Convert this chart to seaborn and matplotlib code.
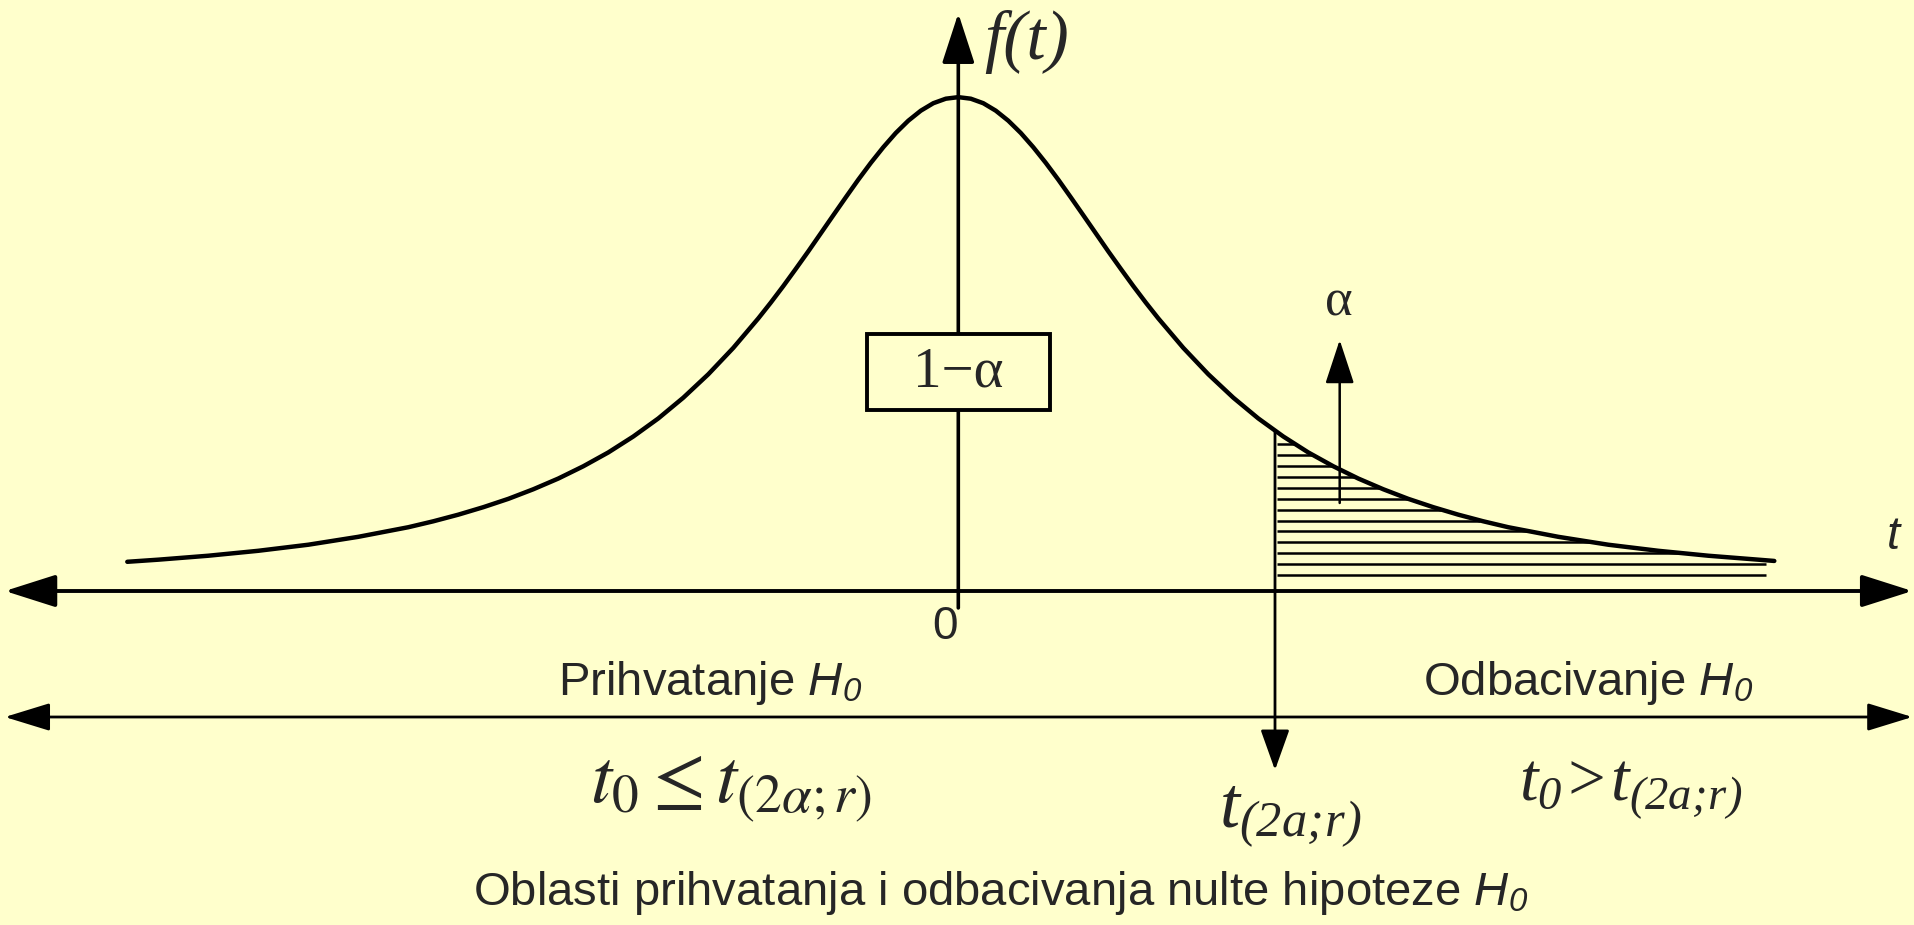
import numpy as np
import pandas as pd
import seaborn as sns
import matplotlib.pyplot as plt
from matplotlib.patches import Rectangle

# Student t density f(t) sampled along the curve
t_values = [-4.155, -4.0, -3.75, -3.5, -3.25, -3.0, -2.75, -2.625, -2.5, -2.375,
            -2.25, -2.125, -2.0, -1.875, -1.75, -1.625, -1.5, -1.375, -1.25,
            -1.125, -1.0, -0.9375, -0.875, -0.8125, -0.75, -0.6875, -0.625,
            -0.5625, -0.5, -0.4375, -0.375, -0.3125, -0.25, -0.1875, -0.125,
            -0.0625, 0.0,
            0.0625, 0.125, 0.1875, 0.25, 0.3125, 0.375, 0.4375, 0.5, 0.5625,
            0.625, 0.6875, 0.75, 0.8125, 0.875, 0.9375, 1.0, 1.125, 1.25,
            1.375, 1.5, 1.625, 1.75, 1.875, 2.0, 2.125, 2.25, 2.375, 2.5,
            2.625, 2.75, 3.0, 3.25, 3.5, 3.75, 4.0, 4.08]
density = [0.0207, 0.0222, 0.0250, 0.0285, 0.0328, 0.0384, 0.0452, 0.0494, 0.0541, 0.0594,
           0.0653, 0.0721, 0.0797, 0.0884, 0.0982, 0.1095, 0.1223, 0.1370, 0.1536,
           0.1723, 0.1932, 0.2044, 0.2161, 0.2283, 0.2407, 0.2535, 0.2663,
           0.2790, 0.2915, 0.3034, 0.3145, 0.3246, 0.3333, 0.3404, 0.3457,
           0.3489, 0.3500,
           0.3489, 0.3457, 0.3404, 0.3333, 0.3246, 0.3145, 0.3034, 0.2915, 0.2790,
           0.2663, 0.2535, 0.2407, 0.2283, 0.2161, 0.2044, 0.1932, 0.1723, 0.1536,
           0.1370, 0.1223, 0.1095, 0.0982, 0.0884, 0.0797, 0.0721, 0.0653, 0.0594, 0.0541,
           0.0494, 0.0452, 0.0384, 0.0328, 0.0285, 0.0250, 0.0222, 0.0213]

# critical value t(2a;r) bounding the rejection region
t_crit = 1.5835

BG = '#FFFFCC'

sns.set_style('white', {'axes.facecolor': BG, 'figure.facecolor': BG})
plt.rcParams['font.family'] = ['Liberation Sans', 'DejaVu Sans']
plt.rcParams['mathtext.fontset'] = 'custom'
plt.rcParams['mathtext.rm'] = 'Liberation Serif:italic'
plt.rcParams['mathtext.it'] = 'Liberation Serif:italic'
plt.rcParams['mathtext.sf'] = 'Liberation Sans:italic'

fig = plt.figure(figsize=(19.15, 9.25), dpi=100, facecolor=BG)
ax = fig.add_axes([0, 0, 1, 1])
ax.set_xlim(-4.7915, 4.7835)
ax.set_ylim(-0.23671, 0.41885)
ax.axis('off')

PX = 72 / 100  # pixel -> point


def arrow(start, end, lw, head_len, head_half, both=False, z=3):
    style = '<|-|>' if both else '-|>'
    ax.annotate('', xy=end, xytext=start,
                arrowprops=dict(arrowstyle=f'{style},head_length={head_len * PX},'
                                           f'head_width={head_half * PX}',
                                mutation_scale=1, lw=lw, color='black',
                                shrinkA=0, shrinkB=0),
                zorder=z)


# density curve
curve = pd.DataFrame({'t': t_values, 'f': density})
sns.lineplot(data=curve, x='t', y='f', ax=ax, color='black', lw=3.2,
             sort=False, estimator=None, zorder=3)
ax.lines[-1].set_solid_joinstyle('round')
ax.lines[-1].set_solid_capstyle('round')

# hatched rejection region (area alpha) right of the critical value
right = curve[curve.t >= 0]
t_r = right.t.to_numpy()
f_r = right.f.to_numpy()
f_crit = np.interp(t_crit, t_r, f_r)
levels = np.arange(0.0113, f_crit - 0.004, 0.00773)
ends = np.interp(levels, f_r[::-1], t_r[::-1])
ends = np.minimum(ends, t_r[-1] - 0.04)
ax.hlines(levels, t_crit + 0.01, ends, color='black', lw=1.8, zorder=2)

# critical value arrow
arrow((t_crit, f_crit), (t_crit, -0.1269), 2.0, 35, 12.5)

# axes
arrow((-4.767, 0), (4.77, 0), 2.8, 44, 14, both=True)
arrow((0, -0.012), (0, 0.4094), 2.6, 43, 14)
# acceptance / rejection band
arrow((-4.767, -0.0893), (4.77, -0.0893), 2.0, 39, 12, both=True)
# alpha pointer
arrow((1.907, 0.0624), (1.907, 0.1779), 1.8, 38, 12.5)

# 1-alpha box
ax.add_patch(Rectangle((-0.4565, 0.1283), 0.915, 0.0538, facecolor=BG,
                       edgecolor='black', lw=2.8, zorder=4))
ax.text(0.0, 0.1552, '1\u2212\u03b1', family='Liberation Serif', size=41,
        ha='center', va='center', zorder=5)

ax.text(0.13, 0.389, 'f(t)', family='Liberation Serif', style='italic',
        size=50, ha='left', va='center')
ax.text(-0.0665, -0.0255, '0', size=33, ha='center', va='center')
ax.text(4.674, 0.0383, 't', style='italic', size=34, ha='center', va='center')
ax.text(1.9035, 0.2048, '\u03b1', family='Liberation Serif', size=38,
        ha='center', va='center')

ax.text(-1.239, -0.0737, r'Prihvatanje $\mathsf{H}_\mathsf{0}$', size=34,
        ha='center', va='baseline')
ax.text(3.151, -0.0737, r'Odbacivanje $\mathsf{H}_\mathsf{0}$', size=34,
        ha='center', va='baseline')

ax.text(-1.139, -0.1495, r'$t_0 \leq t_{(2\alpha;r)}$', math_fontfamily='stix',
        size=55, ha='center', va='baseline')
ax.text(1.6585, -0.1673, r'$t_{(2a;\!r)}$', size=52, ha='center', va='baseline')
ax.text(3.36, -0.148, r'$t_{0}\!>\!t_{(2a;\!r)}$', size=48, ha='center',
        va='baseline')

ax.text(0.2135, -0.2225,
        r'Oblasti prihvatanja i odbacivanja nulte hipoteze $\mathsf{H}_\mathsf{0}$',
        size=34, ha='center', va='baseline')

fig.savefig('out.png', dpi=100, facecolor=BG)
